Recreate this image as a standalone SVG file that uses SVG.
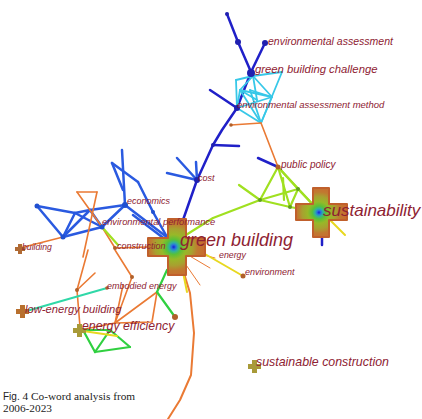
<svg xmlns="http://www.w3.org/2000/svg" width="422" height="419" viewBox="0 0 422 419">
<style>
.lbl{font-family:"Liberation Sans",Arial,sans-serif;font-style:italic;fill:#8e2232}
.cap{font-family:"Liberation Serif","Times New Roman",serif;fill:#222}
.e{fill:none;stroke-linecap:round;stroke-linejoin:round}
.db{stroke:#2020c8;stroke-width:2.5}
.bl{stroke:#2a5ae0;stroke-width:2.5}
.cy{stroke:#38c8e8;stroke-width:1.8}
.or{stroke:#ea7a34;stroke-width:1.6}
.lm{stroke:#a0e020;stroke-width:2.2}
.ye{stroke:#e8d820;stroke-width:2}
.gr{stroke:#30d040;stroke-width:2.2}
.te{stroke:#30d8a8;stroke-width:2}
.cross{stroke:#c0602c;stroke-width:2;stroke-linejoin:round}
</style>
<defs>
<radialGradient id="cg" cx="0.45" cy="0.5" r="0.55">
<stop offset="0" stop-color="#1020d0"/>
<stop offset="0.07" stop-color="#2a70e0"/>
<stop offset="0.14" stop-color="#30b0a0"/>
<stop offset="0.24" stop-color="#58c038"/>
<stop offset="0.4" stop-color="#98b828"/>
<stop offset="0.6" stop-color="#a8a030"/>
<stop offset="0.76" stop-color="#c07a30"/>
<stop offset="1" stop-color="#c86a30"/>
</radialGradient>
</defs>
<rect width="422" height="419" fill="#fff"/>
<g id="connectors">
<polyline class="e db" points="227,14 238,42 251,72 237,108 222,130 213,145 197,180 183,220 175,238"/>
<line class="e db" x1="265" y1="43" x2="251" y2="72"/>
<line class="e db" x1="210" y1="90" x2="237" y2="108"/>
<line class="e db" x1="213" y1="145" x2="239" y2="146"/>
<line class="e db" x1="258" y1="158" x2="278" y2="167" stroke-width="3.5"/>
<line class="e db" x1="322" y1="232" x2="322" y2="245"/>
<g class="e cy">
<line x1="253" y1="76" x2="282" y2="72"/>
<line x1="253" y1="76" x2="272" y2="97"/>
<line x1="282" y1="72" x2="261" y2="123"/>
<line x1="240" y1="90" x2="272" y2="97"/>
<line x1="240" y1="90" x2="261" y2="123"/>
<line x1="237" y1="108" x2="272" y2="97"/>
<line x1="237" y1="108" x2="261" y2="123"/>
<line x1="250" y1="90" x2="261" y2="123"/>
<line x1="253" y1="76" x2="240" y2="90"/>
<line x1="240" y1="90" x2="237" y2="108"/>
<line x1="257" y1="100" x2="253" y2="76"/>
<line x1="250" y1="90" x2="272" y2="97"/>
<line x1="272" y1="97" x2="261" y2="123"/>
<line x1="240" y1="90" x2="257" y2="100"/>
<line x1="236" y1="80" x2="253" y2="76"/>
<line x1="236" y1="80" x2="237" y2="108"/>
</g>
<line class="e or" x1="231" y1="125" x2="261" y2="123"/>
<line class="e or" x1="261" y1="123" x2="278" y2="167"/>
<g class="e bl">
<line x1="197" y1="180" x2="167" y2="173"/>
<line x1="197" y1="180" x2="177" y2="158"/>
<line x1="197" y1="180" x2="196" y2="162"/>
</g>
<g class="e bl">
<line x1="37" y1="206" x2="75" y2="213"/>
<line x1="75" y1="213" x2="90" y2="210"/>
<line x1="90" y1="210" x2="125" y2="205"/>
<line x1="37" y1="206" x2="63" y2="237"/>
<line x1="63" y1="237" x2="75" y2="213"/>
<line x1="63" y1="237" x2="90" y2="210"/>
<line x1="63" y1="237" x2="102" y2="227"/>
<line x1="75" y1="213" x2="102" y2="227"/>
<line x1="90" y1="210" x2="102" y2="227"/>
<line x1="102" y1="227" x2="125" y2="205"/>
<line x1="122" y1="150" x2="125" y2="205"/>
<line x1="112" y1="163" x2="138" y2="182"/>
<line x1="112" y1="163" x2="123" y2="190"/>
<line x1="138" y1="182" x2="153" y2="212"/>
<line x1="153" y1="212" x2="167" y2="237"/>
<line x1="125" y1="205" x2="168" y2="238"/>
<line x1="133" y1="215" x2="170" y2="243"/>
</g>
<g class="e or">
<line x1="77" y1="192" x2="97" y2="192"/>
<line x1="77" y1="192" x2="102" y2="227"/>
<line x1="97" y1="192" x2="83" y2="257"/>
<line x1="63" y1="237" x2="20" y2="248"/>
<line x1="102" y1="227" x2="115" y2="248"/>
<polyline points="88,250 77,290 80,327"/>
<line x1="77" y1="290" x2="95" y2="273"/>
<polyline points="115,250 132,277 115,323"/>
<line x1="115" y1="323" x2="157" y2="292"/>
<polyline points="157,292 152,322 115,323"/>
<line x1="115" y1="323" x2="123" y2="285"/>
<line x1="115" y1="323" x2="80" y2="330"/>
<line x1="115" y1="248" x2="148" y2="247"/>
<polyline points="183,270 190,293 194,333 191,375 180,400 168,419" stroke-width="2"/>
<line x1="188" y1="255" x2="210" y2="268" stroke-width="1"/>
<line x1="184" y1="262" x2="200" y2="285" stroke-width="1"/>
<line x1="192" y1="252" x2="215" y2="258" stroke-width="1"/>
</g>
<line class="e te" x1="23" y1="312" x2="107" y2="288"/>
<line class="e gr" x1="157" y1="292" x2="167" y2="270"/>
<line class="e gr" x1="157" y1="292" x2="175" y2="317"/>
<g class="e gr">
<line x1="83" y1="330" x2="95" y2="352"/>
<line x1="95" y1="352" x2="130" y2="347"/>
<line x1="130" y1="347" x2="110" y2="330"/>
<line x1="110" y1="330" x2="95" y2="352"/>
<line x1="83" y1="330" x2="110" y2="330"/>
</g>
<line class="e ye" x1="83" y1="331" x2="117" y2="336" stroke-width="1.2"/>
<g class="e lm">
<line x1="278" y1="167" x2="298" y2="189"/>
<line x1="278" y1="167" x2="260" y2="200"/>
<line x1="278" y1="167" x2="290" y2="207"/>
<line x1="298" y1="189" x2="260" y2="200"/>
<line x1="298" y1="189" x2="290" y2="207"/>
<line x1="260" y1="200" x2="290" y2="207"/>
<line x1="283" y1="178" x2="284" y2="200"/>
<line x1="298" y1="189" x2="318" y2="210"/>
<line x1="290" y1="207" x2="318" y2="212"/>
<line x1="278" y1="167" x2="318" y2="210"/>
<line x1="239" y1="185" x2="260" y2="200"/>
<polyline points="260,200 213,218 178,240"/>
<line x1="102" y1="227" x2="118" y2="245"/>
</g>
<line class="e ye" x1="323" y1="213" x2="345" y2="235" stroke-width="1.5"/>
<line class="e ye" x1="198" y1="250" x2="243" y2="276" stroke-width="2.5"/>
<line class="e ye" x1="183" y1="272" x2="187" y2="292" stroke-width="1.2"/>
</g>
<g id="dots">
<g fill="#2020b0">
<circle cx="227" cy="14" r="2"/>
<circle cx="238" cy="42" r="3"/>
<circle cx="265" cy="43" r="3"/>
<circle cx="251" cy="73" r="4"/>
<circle cx="237" cy="108" r="3"/>
<circle cx="197" cy="180" r="3"/>
<circle cx="213" cy="145" r="2"/>
</g>
<g fill="#2050d0">
<circle cx="37" cy="206" r="2.5"/>
<circle cx="63" cy="237" r="2.5"/>
<circle cx="125" cy="205" r="3"/>
<circle cx="102" cy="227" r="2.5"/>
<circle cx="153" cy="212" r="2"/>
</g>
<g fill="#b0602a">
<circle cx="231" cy="125" r="1.8"/>
<circle cx="77" cy="290" r="2"/>
<circle cx="115" cy="248" r="2"/>
<circle cx="132" cy="277" r="2"/>
<circle cx="175" cy="317" r="3"/>
<circle cx="243" cy="276" r="2.5"/>
<circle cx="107" cy="288" r="1.8"/>
<circle cx="278" cy="167" r="2.5"/>
</g>
<g fill="#60a020">
<circle cx="298" cy="189" r="2"/>
<circle cx="260" cy="200" r="2"/>
<circle cx="290" cy="207" r="2"/>
</g>
</g>
<g id="n-green-building">
<path class="cross" fill="url(#cg)" d="M168,219 h18 v19 h19 v18 h-19 v19 h-18 v-19 h-20 v-18 h20 z"/>
<text class="lbl" x="180" y="246" font-size="18">green building</text>
</g>
<g id="n-sustainability">
<path class="cross" fill="url(#cg)" d="M313,188 h16 v16 h18 v16 h-18 v17 h-16 v-17 h-17 v-16 h17 z"/>
<text class="lbl" x="323" y="216" font-size="17">sustainability</text>
</g>
<g id="n-environmental-assessment"><text class="lbl" x="268" y="45" font-size="10.5">environmental assessment</text></g>
<g id="n-green-building-challenge"><text class="lbl" x="255" y="73" font-size="11.3">green building challenge</text></g>
<g id="n-environmental-assessment-method"><text class="lbl" x="237" y="108" font-size="9.5">environmental assessment method</text></g>
<g id="n-public-policy"><text class="lbl" x="281" y="168" font-size="10">public policy</text></g>
<g id="n-cost"><text class="lbl" x="198" y="181" font-size="9">cost</text></g>
<g id="n-economics"><text class="lbl" x="127" y="204" font-size="9">economics</text></g>
<g id="n-environmental-performance"><text class="lbl" x="102" y="225" font-size="9.3">environmental performance</text></g>
<g id="n-construction"><text class="lbl" x="117" y="249" font-size="9">construction</text></g>
<g id="n-building">
<path fill="#b06a34" d="M18,244 h4 v3 h3 v4 h-3 v3 h-4 v-3 h-3 v-4 h3 z"/>
<text class="lbl" x="22" y="250" font-size="8.7">building</text>
</g>
<g id="n-energy"><text class="lbl" x="219" y="258" font-size="8.8">energy</text></g>
<g id="n-environment"><text class="lbl" x="245" y="275" font-size="9">environment</text></g>
<g id="n-embodied-energy"><text class="lbl" x="107" y="289" font-size="9">embodied energy</text></g>
<g id="n-low-energy-building">
<path fill="#b8702e" d="M20,305 h5 v4 h4 v5 h-4 v4 h-5 v-4 h-4 v-5 h4 z"/>
<text class="lbl" x="25" y="313" font-size="11.2">low-energy building</text>
</g>
<g id="n-energy-efficiency">
<path fill="#a89a38" d="M77,324 h5 v4 h4 v5 h-4 v4 h-5 v-4 h-4 v-5 h4 z"/>
<text class="lbl" x="82" y="330" font-size="12.3">energy efficiency</text>
</g>
<g id="n-sustainable-construction">
<path fill="#a89a38" d="M252,360 h5 v4 h4 v5 h-4 v4 h-5 v-4 h-4 v-5 h4 z"/>
<text class="lbl" x="256" y="366" font-size="12.4">sustainable construction</text>
</g>
<g id="caption">
<text class="cap" x="3" y="400" font-size="11.3"><tspan font-family="Liberation Sans,Arial,sans-serif" font-size="10">Fig.</tspan> 4  Co-word analysis from</text>
<text class="cap" x="3" y="412" font-size="11.3">2006-2023</text>
</g>
</svg>
